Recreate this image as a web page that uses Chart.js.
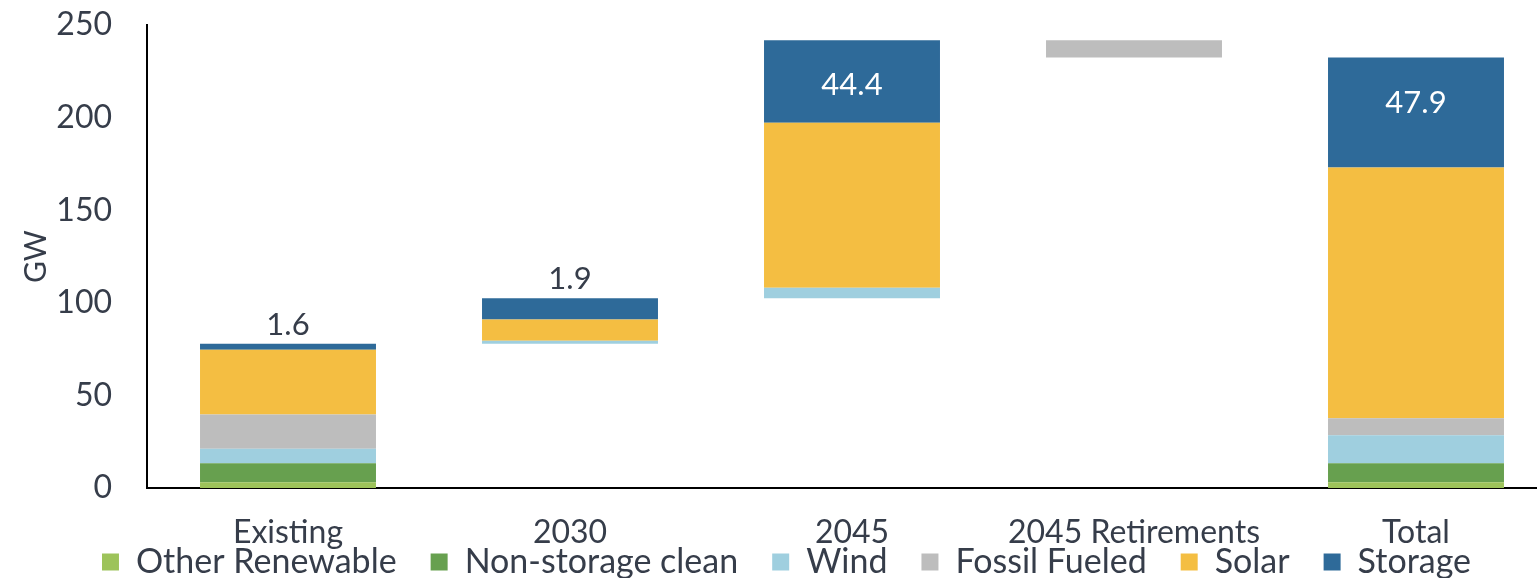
<!DOCTYPE html>
<html>
<head>
<meta charset="utf-8">
<script src="https://cdn.jsdelivr.net/npm/chart.js@4.4.1/dist/chart.umd.min.js"></script>
<style>
html, body { margin: 0; padding: 0; background: #fff; overflow: hidden; }
#wrap { width: 1560px; height: 578px; position: relative; }
</style>
</head>
<body>
<div id="wrap"><canvas id="c"></canvas></div>
<script>
// waterfall: an invisible base lifts the floating bars
var categories = ['Existing', '2030', '2045', '2045 Retirements', 'Total'];
var base = [0, 77.9, 102.4, 232.4, 0];
var otherRenewable = [3.1, 0, 0, 0, 3.1];
var nonStorageClean = [10.3, 0, 0, 0, 10.3];
var wind = [7.8, 1.6, 5.7, 0, 15.1];
var fossil = [18.5, 0, 0, 9.4, 9.1];
var solar = [34.9, 11.5, 89.1, 0, 135.5];
var storage = [3.3, 11.4, 44.6, 0, 59.3];
var storageLabels = ['1.6', '1.9', '44.4', '', '47.9'];
var labelInside = [false, false, true, false, true];

var textColor = '#363d4a';
var fontFamily = 'Lato, "Noto Sans", sans-serif';

function ds(label, data, color) {
    return {label: label, data: data, backgroundColor: color, borderWidth: 0, stack: 's'};
}

var storageLabelPlugin = {
    id: 'storageLabels',
    afterDatasetsDraw: function(chart) {
        var ctx = chart.ctx;
        var meta = chart.getDatasetMeta(6);
        ctx.save();
        ctx.font = '31px ' + fontFamily;
        ctx.textAlign = 'center';
        ctx.textBaseline = 'middle';
        meta.data.forEach(function(bar, i) {
            if (!storageLabels[i]) { return; }
            if (labelInside[i]) {
                ctx.fillStyle = '#ffffff';
                ctx.fillText(storageLabels[i], bar.x, bar.y + 45);
            } else {
                ctx.fillStyle = textColor;
                ctx.fillText(storageLabels[i], bar.x, bar.y - 19);
            }
        });
        ctx.restore();
    }
};

// legend sits tight under the category labels, closer than the layout allows
var legendNudge = {
    id: 'legendNudge',
    afterLayout: function(chart) {
        chart.legend.top -= 39;
        chart.legend.bottom -= 39;
    }
};

new Chart(document.getElementById('c'), {
    type: 'bar',
    data: {
        labels: categories,
        datasets: [
            ds('base', base, 'rgba(0,0,0,0)'),
            ds('Other Renewable', otherRenewable, '#9dc35a'),
            ds('Non-storage clean', nonStorageClean, '#67a04f'),
            ds('Wind', wind, '#9fcfdf'),
            ds('Fossil Fueled', fossil, '#bdbdbd'),
            ds('Solar', solar, '#f4be42'),
            ds('Storage', storage, '#2e6a99')
        ]
    },
    options: {
        responsive: true,
        maintainAspectRatio: false,
        animation: false,
        layout: {padding: {top: 0, left: 16, right: 3, bottom: -50}},
        datasets: {bar: {categoryPercentage: 1, barPercentage: 0.624}},
        plugins: {
            tooltip: {enabled: false},
            legend: {
                position: 'bottom',
                labels: {
                    color: textColor,
                    font: {family: fontFamily, size: 34, lineHeight: 1},
                    boxWidth: 17,
                    boxHeight: 17,
                    padding: 34,
                    filter: function(item) { return item.text !== 'base'; }
                }
            }
        },
        scales: {
            x: {
                stacked: true,
                grid: {display: false, drawTicks: false},
                border: {display: true, color: '#000', width: 2},
                ticks: {color: textColor, font: {family: fontFamily, size: 32, lineHeight: 1}, padding: 29},
                afterFit: function(scale) { scale.height = 62; }
            },
            y: {
                stacked: true,
                min: 0,
                max: 250,
                grid: {display: false, drawTicks: false},
                border: {display: true, color: '#000', width: 2},
                ticks: {stepSize: 50, color: textColor, font: {family: fontFamily, size: 32}, padding: 35},
                title: {display: true, text: 'GW', color: textColor, font: {family: fontFamily, size: 30}, padding: 2},
                afterFit: function(scale) {
                    scale.width = 131;
                    scale.paddingTop = 25;
                    scale.paddingBottom = 0;
                }
            }
        }
    },
    plugins: [storageLabelPlugin, legendNudge]
});
</script>
</body>
</html>
